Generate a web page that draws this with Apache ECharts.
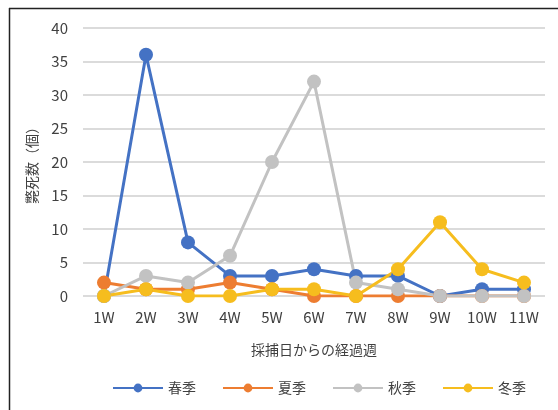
<!DOCTYPE html>
<html>
<head>
<meta charset="utf-8">
<script src="https://cdn.jsdelivr.net/npm/echarts@6/dist/echarts.min.js"></script>
<style>
  html, body { margin: 0; padding: 0; background: #fff; }
  #chart { width: 558px; height: 410px; }
</style>
</head>
<body>
<div id="chart"></div>
<script>
// Weekly counts after sampling, per season
const weeks = ['1W', '2W', '3W', '4W', '5W', '6W', '7W', '8W', '9W', '10W', '11W'];
const spring = [0, 36, 8, 3, 3, 4, 3, 3, 0, 1, 1];
const summer = [2, 1, 1, 2, 1, 0, 0, 0, 0, 0, 0];
const autumn = [0, 3, 2, 6, 20, 32, 2, 1, 0, 0, 0];
const winter = [0, 1, 0, 0, 1, 1, 0, 4, 11, 4, 2];
const seasonNames = ['春季', '夏季', '秋季', '冬季'];
const seasonColors = ['#4472C4', '#ED7D31', '#C2C2C2', '#F6BD1E'];
const yTicks = { min: 0, max: 40, interval: 5 };

const FONT = '"Noto Sans CJK JP", "Noto Sans", sans-serif';
const TEXT = '#404040';

const chart = echarts.init(document.getElementById('chart'), null, { renderer: 'canvas' });

function makeSeries(name, data, color) {
  return {
    name: name,
    type: 'line',
    data: data,
    symbol: 'circle',
    symbolSize: 14,
    showAllSymbol: true,
    lineStyle: { width: 3, color: color },
    itemStyle: { color: color },
    emphasis: { disabled: true },
    animation: false
  };
}

chart.setOption({
  backgroundColor: '#fff',
  textStyle: { fontFamily: FONT },
  graphic: [
    { type: 'line', shape: { x1: 9.5, y1: 8, x2: 9.5, y2: 410 }, style: { stroke: '#222', lineWidth: 1.5 } },
    { type: 'line', shape: { x1: 9, y1: 8.5, x2: 558, y2: 8.5 }, style: { stroke: '#222', lineWidth: 1.5 } }
  ],
  grid: { left: 83, right: 13, top: 28, height: 268 },
  legend: {
    top: 376,
    left: 107,
    itemWidth: 50,
    itemHeight: 11,
    itemGap: 26,
    textStyle: { fontFamily: FONT, fontSize: 14, color: TEXT },
    data: seasonNames
  },
  xAxis: {
    type: 'category',
    data: weeks,
    boundaryGap: true,
    name: '採捕日からの経過週',
    nameLocation: 'middle',
    nameGap: 47,
    nameTextStyle: { fontFamily: FONT, fontSize: 14, color: TEXT },
    axisLine: { show: false },
    axisTick: { show: false },
    axisLabel: { fontFamily: FONT, fontSize: 15, color: TEXT, margin: 14 }
  },
  yAxis: {
    type: 'value',
    min: yTicks.min,
    max: yTicks.max,
    interval: yTicks.interval,
    name: '斃死数（個）',
    nameLocation: 'middle',
    nameRotate: 90,
    nameGap: 44,
    nameTextStyle: { fontFamily: FONT, fontSize: 14, color: TEXT },
    axisLine: { show: false },
    axisTick: { show: false },
    axisLabel: { fontFamily: FONT, fontSize: 15, color: TEXT, margin: 15 },
    splitLine: { lineStyle: { color: '#CFCFCF', width: 1.5 } }
  },
  series: [
    makeSeries(seasonNames[0], spring, seasonColors[0]),
    makeSeries(seasonNames[1], summer, seasonColors[1]),
    makeSeries(seasonNames[2], autumn, seasonColors[2]),
    makeSeries(seasonNames[3], winter, seasonColors[3])
  ]
});
</script>
</body>
</html>
